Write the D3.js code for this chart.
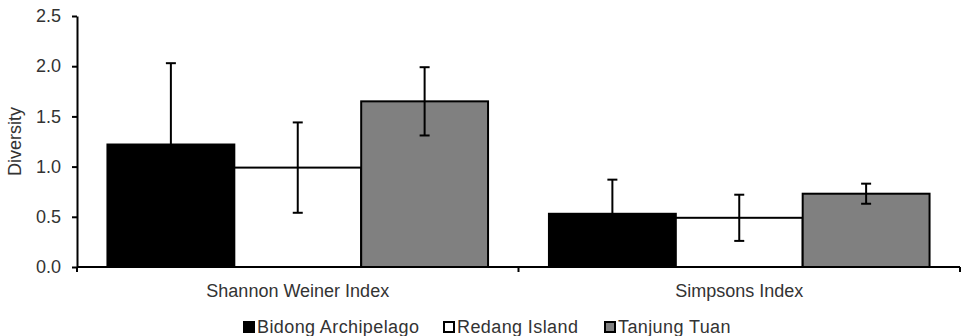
<!DOCTYPE html>
<html>
<head>
<meta charset="utf-8">
<script src="https://cdn.jsdelivr.net/npm/d3@7"></script>
<style>
  html, body { margin: 0; padding: 0; background: #fff; }
  svg { display: block; font-family: "Liberation Sans", Arial, sans-serif; }
</style>
</head>
<body>
<svg id="chart" width="964" height="336"></svg>
<script>
// Diversity indices per site (mean ± error)
const categories = ["Shannon Weiner Index", "Simpsons Index"];
const sites = ["Bidong Archipelago", "Redang Island", "Tanjung Tuan"];
const siteColors = ["#000000", "#ffffff", "#808080"];
const bidongValues = [1.22, 0.53];
const bidongErrors = [0.81, 0.34];
const redangValues = [0.99, 0.49];
const redangErrors = [0.45, 0.23];
const tanjungValues = [1.65, 0.73];
const tanjungErrors = [0.34, 0.10];
const yTicks = [0, 0.5, 1.0, 1.5, 2.0, 2.5];

const seriesValues = [bidongValues, redangValues, tanjungValues];
const seriesErrors = [bidongErrors, redangErrors, tanjungErrors];

const svg = d3.select("#chart");
const margin = { left: 77, right: 4, top: 16, bottom: 69 };
const width = 964, height = 336;
const plotBottom = height - margin.bottom;
const fontSize = 18;
const textColor = "#333333";

const x0 = d3.scaleBand().domain(categories)
  .range([margin.left, width - margin.right]).paddingInner(0).paddingOuter(0);
const x1 = d3.scaleBand().domain(sites)
  .range([0, x0.bandwidth()]).paddingInner(0).paddingOuter(0.24);
const y = d3.scaleLinear().domain([0, 2.5]).range([plotBottom, margin.top]);

// Bars
const rows = [];
categories.forEach((c, ci) => {
  sites.forEach((s, si) => {
    rows.push({ cat: c, site: s, si, value: seriesValues[si][ci], err: seriesErrors[si][ci] });
  });
});

const g = svg.append("g");
g.selectAll("rect.bar").data(rows).enter().append("rect")
  .attr("class", "bar")
  .attr("x", d => x0(d.cat) + x1(d.site))
  .attr("y", d => y(d.value))
  .attr("width", x1.bandwidth())
  .attr("height", d => y(0) - y(d.value))
  .attr("fill", d => siteColors[d.si])
  .attr("stroke", "#000")
  .attr("stroke-width", 2);

// Error bars
const cap = 5;
const cx = d => x0(d.cat) + x1(d.site) + x1.bandwidth() / 2;
const eb = g.selectAll("g.err").data(rows).enter().append("g").attr("class", "err")
  .attr("stroke", "#000").attr("stroke-width", 2);
eb.append("line")
  .attr("x1", cx).attr("x2", cx)
  .attr("y1", d => y(d.value - d.err))
  .attr("y2", d => y(d.value + d.err));
[1, -1].forEach(sign => {
  eb.append("line")
    .attr("x1", d => cx(d) - cap)
    .attr("x2", d => cx(d) + cap)
    .attr("y1", d => y(d.value + sign * d.err))
    .attr("y2", d => y(d.value + sign * d.err));
});

// Y axis
const yAxis = d3.axisLeft(y).tickValues(yTicks).tickFormat(d3.format(".1f")).tickSize(5).tickSizeOuter(0);
const ya = svg.append("g").attr("transform", `translate(${margin.left},0)`).call(yAxis);
ya.select(".domain").attr("stroke", "#000").attr("stroke-width", 2);
ya.selectAll(".tick line").attr("stroke", "#000").attr("stroke-width", 2);
ya.selectAll(".tick text").attr("fill", textColor).attr("font-size", fontSize).attr("x", -16);

// X axis with ticks at category boundaries
const xa = svg.append("g").attr("transform", `translate(0,${plotBottom})`);
xa.append("line").attr("x1", margin.left).attr("x2", width - margin.right)
  .attr("stroke", "#000").attr("stroke-width", 2);
const bounds = categories.map(c => x0(c)).concat([x0(categories[categories.length - 1]) + x0.bandwidth()]);
xa.selectAll("line.bt").data(bounds).enter().append("line").attr("class", "bt")
  .attr("x1", d => d).attr("x2", d => d).attr("y1", 0).attr("y2", 5)
  .attr("stroke", "#000").attr("stroke-width", 2);
xa.selectAll("text.cat").data(categories).enter().append("text").attr("class", "cat")
  .attr("x", d => x0(d) + x0.bandwidth() / 2)
  .attr("y", 30)
  .attr("text-anchor", "middle")
  .attr("fill", textColor)
  .attr("font-size", fontSize)
  .text(d => d);

// Y axis title
svg.append("text")
  .attr("transform", `translate(21,${(margin.top + plotBottom) / 2}) rotate(-90)`)
  .attr("text-anchor", "middle")
  .attr("fill", textColor)
  .attr("font-size", fontSize)
  .text("Diversity");

// Legend
const legendX = [243, 443, 604];
const lg = svg.selectAll("g.legend").data(sites).enter().append("g").attr("class", "legend")
  .attr("transform", (d, i) => `translate(${legendX[i]},321)`);
lg.append("rect").attr("x", 1).attr("y", 1).attr("width", 10).attr("height", 10)
  .attr("fill", (d, i) => siteColors[i]).attr("stroke", "#000").attr("stroke-width", 2);
lg.append("text").attr("x", 14).attr("y", 11.5)
  .attr("fill", textColor).attr("font-size", fontSize).attr("letter-spacing", 0.4).text(d => d);
</script>
</body>
</html>
